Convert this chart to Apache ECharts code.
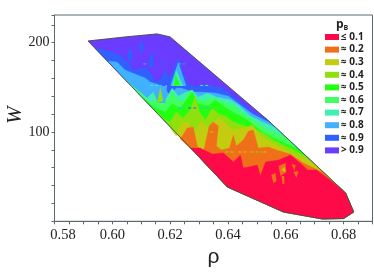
<!DOCTYPE html>
<html><head><meta charset="utf-8">
<style>html,body{margin:0;padding:0;background:#fff}#c{width:374px;height:280px;filter:blur(0.45px)}</style>
<script src="https://cdn.jsdelivr.net/npm/echarts@6/dist/echarts.min.js"></script>
</head><body><div id="c"></div>
<script>
const levelNames=['≤ 0.1','≈ 0.2','≈ 0.3','≈ 0.4','≈ 0.5','≈ 0.6','≈ 0.7','≈ 0.8','≈ 0.9','> 0.9'];
const levelColors=['#ff0a48','#f0701a','#c4cc10','#90e010','#22ff10','#40ff60','#40f0b0','#40b0ff','#3060ff','#6a3cff'];
const xTicks=[0.58,0.60,0.62,0.64,0.66,0.68];
const yTicks=[100,200];
const upperHull=[[.5916,201.9],[.6044,206.4],[.6155,209.8],[.6200,206.4],[.6537,113.5]];
const lowerHull=[[.6807,31.7],[.6835,10.4],[.6800,3.1],[.6727,2.6],[.6592,10.4],[.6398,38.4],[.6277,79.9]];
const edge09=[[.5940,194.1],[.5985,190.7],[.6027,186.3],[.6055,177.3],[.6072,169.5],[.6114,171.7],[.6131,167.2],[.6148,156],[.6166,158.3],[.6183,169.5],[.6200,158.3],[.6242,156],[.6287,151.6],[.6322,152.7],[.6381,149.3],[.6443,133.6],[.6485,122.4],[.6530,115.7],[.6537,113.5]];
const edge08=[[.5982,179.5],[.6017,178.4],[.6044,169.5],[.6079,165],[.6114,160.5],[.6131,156],[.6176,151.6],[.6200,140.3],[.6221,149.3],[.6238,149.3],[.6277,144.8],[.6304,144.8],[.6356,143.7],[.6401,140.3],[.6443,130.3],[.6485,120.2],[.6547,110.1]];
const edge07=[[.6020,167.2],[.6041,160.5],[.6069,151.6],[.6096,144.8],[.6121,138.1],[.6148,147.1],[.6183,135.9],[.6207,149.3],[.6228,140.3],[.6256,144.8],[.6277,147.1],[.6297,139.2],[.6329,143.7],[.6360,139.2],[.6408,136],[.6436,130.3],[.6478,117.9],[.6519,111.2],[.6568,104.5]];
const edge06=[[.6055,154.9],[.6096,143.7],[.6131,132.5],[.6166,138.1],[.6173,147.1],[.6183,131.4],[.6207,144.8],[.6221,138.1],[.6245,133.6],[.6270,147.1],[.6290,135.9],[.6322,135.9],[.6346,138.1],[.6381,133.6],[.6419,129.1],[.6488,113.5],[.6537,102.3],[.6599,94.4]];
const edge05=[[.6107,138.1],[.6148,126.9],[.6183,122.4],[.6207,131.4],[.6235,126.9],[.6256,135.9],[.6277,144.8],[.6297,131.4],[.6332,129.1],[.6356,135.9],[.6384,129.1],[.6415,122.4],[.6467,113.5],[.6519,100],[.6571,91],[.6644,81]];
const edge04=[[.6148,123.5],[.6183,113.5],[.6200,111.2],[.6221,122.4],[.6245,115.7],[.6270,124.7],[.6287,140.3],[.6301,122.4],[.6322,113.5],[.6346,126.9],[.6367,120.2],[.6391,117.9],[.6419,111.2],[.6478,104.5],[.6523,98.9],[.6557,91],[.6668,73.1]];
const edge03=[[.6200,104.5],[.6221,95.5],[.6238,109],[.6263,111.2],[.6283,96.7],[.6304,111.2],[.6332,104.5],[.6367,115.7],[.6394,109],[.6415,102.3],[.6460,104.5],[.6485,107.9],[.6519,93.3],[.6575,84.3],[.6637,73.1],[.6693,66.4]];
const edge02=[[.6235,92.2],[.6259,104.5],[.6280,105.6],[.6294,84.3],[.6315,77.6],[.6335,106.7],[.6349,111.2],[.6367,106.7],[.6360,84.3],[.6377,79.9],[.6405,82.1],[.6419,96.7],[.6429,84.3],[.6453,91],[.6471,101.1],[.6488,102.3],[.6505,82.1],[.6540,83.2],[.6568,79.9],[.6616,75.4],[.6661,65.3],[.6727,55.2]];
const edge01=[[.6270,82.1],[.6304,82.1],[.6346,75.4],[.6384,76.5],[.6419,66.4],[.6443,74.3],[.6453,59.7],[.6502,63],[.6512,50.7],[.6530,66.4],[.6575,68.7],[.6616,74.3],[.6658,63],[.6675,57.5],[.6706,57.5],[.6758,45.1]];
const patchLevels=[8,8,8,8,7,6,4,7,3,1,2,1,1,1,1];
const patches=[
 [[.6055,191.9],[.6069,191.9],[.6066,178.4],[.6052,180.7]],
 [[.6093,199.7],[.6107,199.7],[.6107,189.6],[.6096,188.5]],
 [[.6131,186.3],[.6145,186.3],[.6138,171.7],[.6124,173.9]],
 [[.6228,182.9],[.6187,151.6],[.6263,151.6]],
 [[.6228,178.4],[.6200,151.6],[.6256,151.6]],
 [[.6221,169.5],[.6207,151.6],[.6245,151.6]],
 [[.6218,164.9],[.6214,151.6],[.6235,151.6]],
 [[.6131,152.7],[.6190,152.7],[.6183,132.5],[.6159,132.5]],
 [[.6166,150.4],[.6176,134.7],[.6155,132.5]],
 [[.6575,61.9],[.6599,65.3],[.6602,55.2],[.6582,50.7]],
 [[.6585,57.5],[.6595,60.8],[.6599,55.2]],
 [[.6585,50.7],[.6595,50.7],[.6595,41.8],[.6589,41.8]],
 [[.6550,51.9],[.6564,54.1],[.6568,45.1],[.6557,42.9]],
 [[.6620,64.2],[.6634,63],[.6630,56.3]],
 [[.6627,55.2],[.6644,56.3],[.6637,48.5]]
];
const dashLevels=[8,7,8,7,6,9,6,9,6,7,8,7,3,2,3,2,3];
const dashFrom=[.6062,.6107,.6166,.6228,.6131,.6173,.6221,.6256,.6304,.6228,.6263,.6304,.6391,.6436,.6478,.6523,.6304];
const dashTo=[.6089,.6124,.6193,.6250,.6166,.6207,.6242,.6297,.6339,.6250,.6297,.6346,.6426,.6467,.6519,.6537,.6349];
const dashW=[176.2,176.2,176.2,176.2,152.1,152.1,152.1,152.1,152.1,126.9,126.9,126.9,77.6,77.6,77.6,77.6,100];
const hullOutline=upperHull.concat(lowerHull);
const bandShapes=[edge01,edge02,edge03,edge04,edge05,edge06,edge07,edge08,edge09,upperHull].map(e=>e.concat(lowerHull));

const poly=(pts,api,style)=>({type:'polygon',shape:{points:pts.map(p=>api.coord(p))},style});
const series=levelNames.map((name,i)=>({
  name,type:'custom',coordinateSystem:'cartesian2d',z:20-i,silent:true,
  itemStyle:{color:levelColors[i]},data:[[i]],
  renderItem:(p,api)=>poly(bandShapes[i],api,{fill:levelColors[i],stroke:levelColors[i],lineWidth:0.3})
}));
series.push({type:'custom',z:30,silent:true,data:patches.map((_,i)=>[i]),
  renderItem:(p,api)=>poly(patches[api.value(0)],api,{fill:levelColors[patchLevels[api.value(0)]]})});
series.push({type:'custom',z:30,silent:true,data:dashW.map((_,i)=>[i]),
  renderItem:(p,api)=>{const i=api.value(0),a=api.coord([dashFrom[i],dashW[i]]),b=api.coord([dashTo[i],dashW[i]]);
    return {type:'line',shape:{x1:a[0],y1:a[1],x2:b[0],y2:b[1]},style:{stroke:levelColors[dashLevels[i]],lineWidth:1,lineDash:[3,2]}};}});
series.push({type:'custom',z:31,silent:true,data:[[0]],
  renderItem:(p,api)=>poly(hullOutline,api,{fill:'none',stroke:'#4a4a4a',lineWidth:0.9})});

const axisCol='#5c6a70';
const chart=echarts.init(document.getElementById('c'));
chart.setOption({
  animation:false,backgroundColor:'#fff',
  title:{text:'{p|p}{b|B}',left:331,top:14,textStyle:{rich:{
    p:{fontFamily:'"Open Sans"',fontWeight:'bold',fontSize:12,color:'#222'},
    b:{fontFamily:'"Open Sans"',fontWeight:'bold',fontSize:7,color:'#222',verticalAlign:'bottom',padding:[4,0,0,0]}}}},
  legend:{orient:'vertical',left:325,top:32,padding:0,icon:'rect',itemWidth:14,itemHeight:6,itemGap:2.6,
    data:levelNames,selectedMode:false,itemStyle:{borderWidth:0},
    formatter:n=>n,textStyle:{fontFamily:'"Open Sans"',fontWeight:'bold',fontSize:10,lineHeight:10,color:'#222',padding:[0,0,0,-3]}},
  grid:{left:54.5,right:1.5,top:15,bottom:58.7,show:true,outerBoundsMode:'none',containLabel:false,borderColor:axisCol,borderWidth:1,backgroundColor:'transparent'},
  xAxis:{type:'value',min:0.58,max:0.69,interval:0.005,name:'ρ',nameLocation:'middle',nameGap:24,
    nameTextStyle:{fontFamily:'"Liberation Sans"',fontSize:21,color:'#222'},
    axisLine:{show:true,onZero:false,lineStyle:{color:axisCol}},
    axisTick:{show:true,length:3,lineStyle:{color:axisCol}},splitLine:{show:false},
    axisLabel:{interval:0,hideOverlap:false,margin:6,fontFamily:'"Liberation Serif"',fontSize:14.5,color:'#222',
      rich:{first:{fontFamily:'"Liberation Serif"',fontSize:14.5,color:'#222',padding:[0,0,0,17]}},
      formatter:v=>{const t=xTicks.find(k=>Math.abs(k-v)<1e-6);if(t===undefined)return '';
        return t===xTicks[0]?'{first|'+t.toFixed(2)+'}':t.toFixed(2);}}},
  yAxis:{type:'value',min:0,max:231,interval:20,name:'W',nameLocation:'middle',nameGap:29,nameMoveOverlap:false,
    nameTextStyle:{fontFamily:'"Liberation Serif"',fontStyle:'italic',fontSize:21,color:'#222',padding:[0,0,0,6]},
    axisLine:{show:true,onZero:false,lineStyle:{color:axisCol}},
    axisTick:{show:true,length:3,lineStyle:{color:axisCol}},splitLine:{show:false},
    axisLabel:{interval:0,hideOverlap:false,margin:5,fontFamily:'"Liberation Serif"',fontSize:14,color:'#222',
      formatter:v=>yTicks.includes(v)?String(v):''}},
  series
});
</script></body></html>
